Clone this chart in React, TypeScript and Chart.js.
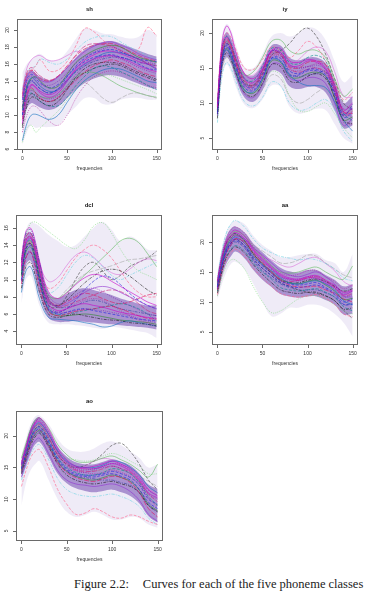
import React, { useEffect, useRef } from "react";
import { Chart, registerables } from "chart.js";
Chart.register(...registerables);

// ---------- data ----------
const FREQ = [0, 5, 10, 15, 20, 30, 40, 50, 60, 70, 80, 90, 100, 110, 120, 130, 140, 150];
const X_TICKS = [0, 50, 100, 150];

const SH_TICKS = [6, 8, 10, 12, 14, 16, 18, 20];
const IY_TICKS = [5, 10, 15, 20];
const DCL_TICKS = [4, 6, 8, 10, 12, 14, 16];
const AA_TICKS = [5, 10, 15, 20];
const AO_TICKS = [5, 10, 15, 20];

// sh
const SH_OUTER_UP = [15.0, 16.0, 16.5, 17.0, 17.2, 16.5, 16.5, 17.5, 19.0, 20.2, 20.0, 19.6, 19.5, 19.2, 19.0, 19.2, 20.0, 19.5];
const SH_OUTER_LO = [6.5, 8.0, 8.8, 8.5, 8.6, 8.6, 8.8, 10.0, 11.0, 12.0, 12.0, 11.3, 11.3, 11.8, 12.0, 12.0, 11.8, 11.8];
const SH_CORE_UP = [13.0, 14.8, 15.3, 14.9, 14.5, 14.1, 14.6, 15.6, 16.8, 17.7, 18.3, 18.6, 18.7, 18.4, 18.0, 17.6, 17.2, 16.9];
const SH_CORE_LO = [8.8, 10.8, 11.4, 11.2, 10.9, 10.6, 11.0, 12.0, 13.0, 13.8, 14.3, 14.6, 14.7, 14.5, 14.1, 13.7, 13.3, 13.0];
const SH_CURVES = [
  [9.0, 12.0, 13.5, 13.2, 12.6, 12.1, 12.6, 14.0, 15.5, 16.5, 17.1, 17.5, 17.5, 17.2, 16.8, 16.3, 16.0, 15.5],
  [10.0, 13.0, 14.0, 13.6, 13.1, 12.6, 13.1, 14.5, 15.6, 16.3, 16.8, 17.0, 17.1, 16.8, 16.5, 16.0, 15.5, 15.3],
  [11.5, 14.0, 14.6, 14.1, 13.6, 13.5, 14.0, 15.0, 16.1, 16.9, 17.4, 17.8, 18.0, 17.6, 17.0, 16.5, 16.2, 16.0],
  [8.5, 11.0, 12.1, 12.0, 11.6, 11.1, 11.6, 13.0, 14.5, 15.5, 16.0, 16.2, 16.2, 16.0, 15.5, 15.0, 14.6, 14.2],
  [9.5, 12.5, 13.2, 12.6, 12.0, 11.6, 12.1, 13.1, 14.1, 15.1, 15.8, 16.2, 16.5, 16.2, 15.8, 15.2, 14.8, 14.5],
  [7.0, 9.0, 10.0, 10.1, 9.9, 9.5, 10.0, 11.5, 13.0, 14.1, 14.8, 15.3, 15.5, 15.4, 15.0, 14.5, 14.0, 13.8],
  [12.0, 14.5, 15.1, 14.6, 14.1, 13.9, 14.5, 15.6, 16.6, 17.5, 18.1, 18.5, 18.6, 18.2, 17.8, 17.2, 16.8, 16.5],
  [10.0, 12.0, 12.6, 12.1, 11.6, 11.1, 11.1, 12.1, 13.5, 14.6, 15.5, 15.8, 15.6, 15.1, 14.6, 14.1, 13.5, 13.0],
  [8.0, 10.0, 11.0, 11.0, 10.5, 9.3, 8.8, 10.0, 12.0, 13.5, 14.5, 15.0, 15.2, 15.0, 14.6, 14.0, 13.5, 13.2],
  [11.0, 13.5, 14.1, 13.6, 13.1, 12.6, 13.1, 14.1, 15.1, 15.8, 16.3, 16.6, 16.8, 16.8, 16.5, 16.2, 16.0, 15.8],
  [12.5, 15.0, 15.6, 15.1, 14.6, 14.1, 14.6, 15.6, 17.1, 18.1, 18.4, 18.3, 18.1, 17.6, 17.1, 16.6, 16.1, 15.8],
  [10.8, 13.2, 14.3, 14.5, 14.0, 13.2, 13.4, 14.8, 16.2, 17.0, 17.6, 18.0, 18.2, 18.0, 17.4, 16.8, 16.5, 16.2],
  [10.2, 12.8, 13.6, 13.3, 12.8, 12.4, 12.9, 14.2, 15.3, 16.1, 16.6, 16.9, 17.0, 16.7, 16.3, 15.8, 15.4, 15.1],
  [11.8, 14.2, 14.8, 14.3, 13.8, 13.2, 13.6, 14.6, 15.8, 16.7, 17.3, 17.6, 17.7, 17.4, 17.0, 16.6, 16.4, 16.3],
  [9.8, 12.2, 12.9, 12.6, 12.2, 11.9, 12.3, 13.4, 14.8, 15.8, 16.4, 16.8, 16.9, 16.6, 16.1, 15.6, 15.2, 14.9],
  [8.8, 11.5, 12.5, 12.3, 11.9, 11.6, 12.0, 13.2, 14.3, 15.0, 15.5, 15.8, 16.0, 15.8, 15.3, 14.8, 14.4, 14.0],
  [12.2, 14.8, 15.3, 14.8, 14.3, 14.0, 14.6, 15.8, 17.0, 17.8, 18.2, 18.4, 18.4, 18.0, 17.5, 17.0, 16.6, 16.4],
  [10.6, 13.4, 14.4, 14.0, 13.4, 12.8, 13.0, 14.0, 15.2, 16.0, 16.6, 17.2, 17.4, 17.3, 17.0, 16.6, 16.0, 15.4],
];
const SH_STRAYS = [
  [11.0, 14.0, 15.2, 15.8, 16.5, 15.2, 15.3, 16.3, 18.2, 20.2, 19.8, 18.8, 18.0, 17.5, 17.2, 17.8, 20.3, 19.3],
  [6.8, 8.5, 8.8, 8.0, 8.5, 9.5, 10.5, 11.8, 13.0, 14.0, 14.5, 14.8, 14.6, 14.2, 13.8, 13.4, 13.0, 12.5],
  [13.0, 15.0, 15.5, 15.8, 16.6, 16.2, 16.0, 16.6, 17.6, 18.6, 19.1, 19.3, 19.2, 18.6, 18.0, 17.5, 17.0, 16.5],
  [9.5, 11.5, 12.0, 12.0, 11.8, 11.5, 11.8, 12.5, 13.4, 13.8, 13.0, 12.0, 11.5, 12.0, 12.5, 12.6, 12.3, 12.0],
  [10.5, 12.5, 13.0, 12.6, 12.2, 12.0, 12.4, 13.5, 14.5, 15.0, 15.0, 14.6, 14.0, 13.4, 13.0, 12.6, 12.3, 12.1],
  [13.0, 15.5, 16.5, 16.9, 17.0, 16.4, 16.5, 17.0, 17.5, 17.2, 16.8, 16.5, 16.3, 16.0, 15.5, 14.8, 14.2, 13.5],
];

// iy
const IY_OUTER_UP = [11.0, 19.5, 21.3, 20.5, 18.5, 15.2, 15.0, 17.0, 19.5, 20.0, 19.5, 20.0, 20.8, 20.5, 19.0, 16.0, 13.0, 14.0];
const IY_OUTER_LO = [7.2, 13.5, 15.5, 14.5, 12.5, 9.8, 9.3, 10.5, 12.5, 12.3, 9.5, 8.5, 8.8, 9.2, 9.0, 7.0, 5.0, 4.2];
const IY_CORE_UP = [10.3, 18.4, 20.1, 19.3, 17.5, 14.3, 13.9, 15.6, 18.2, 18.2, 16.5, 16.1, 16.5, 16.5, 15.7, 13.3, 10.0, 11.0];
const IY_CORE_LO = [7.7, 14.6, 16.6, 15.6, 13.6, 10.8, 10.2, 11.8, 14.6, 14.3, 12.4, 12.0, 12.3, 12.3, 11.5, 9.0, 6.4, 6.8];
const IY_CURVES = [
  [9.5, 18.5, 21.0, 20.0, 17.5, 14.2, 13.5, 15.0, 17.5, 17.8, 16.0, 15.8, 16.2, 16.0, 15.0, 12.5, 9.0, 10.0],
  [8.5, 16.0, 18.2, 17.2, 15.2, 12.2, 11.8, 13.6, 16.4, 16.4, 14.6, 14.2, 14.8, 14.8, 14.0, 11.2, 8.0, 8.6],
  [10.0, 17.8, 19.6, 18.6, 16.6, 13.6, 13.0, 14.8, 17.5, 17.3, 15.4, 15.0, 15.2, 15.4, 14.8, 12.2, 9.2, 9.5],
  [7.8, 15.2, 17.2, 16.2, 14.4, 11.5, 11.0, 12.8, 15.5, 15.2, 13.2, 13.0, 13.8, 14.2, 13.5, 10.8, 7.5, 7.0],
  [9.2, 17.2, 19.2, 18.2, 16.2, 13.2, 12.6, 14.5, 17.2, 17.0, 15.2, 15.0, 15.8, 16.0, 15.5, 12.5, 8.8, 8.5],
  [8.8, 16.0, 17.6, 16.6, 14.6, 11.8, 11.6, 13.5, 16.2, 16.0, 14.0, 13.0, 12.5, 12.5, 12.2, 10.2, 7.5, 6.0],
  [8.2, 15.5, 17.6, 16.5, 14.4, 11.3, 10.8, 12.6, 15.5, 15.5, 13.6, 13.2, 13.6, 13.6, 12.8, 10.0, 6.8, 7.8],
  [9.8, 17.5, 19.5, 18.5, 16.6, 13.5, 13.2, 15.3, 17.8, 17.6, 15.8, 15.6, 16.5, 16.8, 16.0, 12.6, 8.5, 7.5],
  [8.6, 16.8, 18.8, 17.5, 15.4, 12.4, 12.0, 13.6, 16.6, 16.6, 14.8, 14.6, 15.2, 15.6, 15.4, 12.0, 7.2, 7.0],
  [9.0, 16.2, 18.0, 17.0, 15.2, 12.8, 12.6, 14.6, 17.4, 17.0, 14.2, 13.8, 14.0, 14.2, 14.5, 11.6, 8.2, 9.8],
  [9.0, 17.0, 19.0, 18.0, 15.8, 12.8, 12.3, 14.0, 16.8, 16.8, 15.0, 14.4, 14.8, 15.0, 14.4, 11.6, 8.2, 8.8],
  [8.4, 15.8, 17.8, 16.8, 14.8, 11.9, 11.4, 13.2, 16.0, 15.8, 13.8, 13.6, 14.2, 14.4, 13.8, 10.8, 7.6, 8.0],
  [9.6, 17.6, 19.4, 18.4, 16.4, 13.4, 12.9, 14.8, 17.4, 17.2, 15.4, 15.3, 16.0, 15.8, 14.8, 12.0, 8.6, 9.2],
  [8.8, 16.4, 18.4, 17.4, 15.6, 12.6, 12.2, 14.0, 16.4, 16.0, 14.0, 14.0, 14.6, 14.6, 13.8, 11.4, 8.4, 9.4],
  [9.4, 16.8, 18.6, 17.6, 15.6, 12.6, 12.4, 14.4, 17.0, 17.2, 15.6, 15.0, 15.2, 15.0, 14.2, 11.8, 8.8, 8.0],
];
const IY_STRAYS = [
  [10.5, 18.2, 20.0, 19.4, 17.8, 15.0, 14.8, 16.2, 18.0, 17.5, 16.5, 17.5, 18.8, 18.0, 16.0, 13.0, 10.5, 11.5],
  [8.5, 15.5, 17.5, 16.8, 15.0, 12.0, 11.5, 12.5, 14.5, 14.0, 11.0, 9.0, 8.8, 9.5, 10.0, 8.5, 6.5, 5.0],
  [7.2, 13.8, 15.8, 15.0, 13.2, 10.2, 9.6, 10.8, 13.0, 12.5, 10.0, 9.0, 9.2, 10.0, 10.5, 9.0, 6.0, 4.5],
  [8.0, 14.5, 16.5, 15.8, 14.2, 11.6, 11.0, 12.0, 14.0, 13.5, 11.0, 10.0, 10.5, 11.5, 12.0, 10.5, 8.5, 9.0],
  [9.5, 17.0, 18.8, 18.0, 16.5, 14.0, 14.5, 16.5, 18.8, 19.0, 17.5, 17.0, 17.5, 17.5, 16.5, 13.5, 11.0, 12.0],
  [9.8, 17.4, 19.2, 18.4, 16.8, 14.2, 14.0, 15.6, 17.6, 17.0, 15.6, 16.2, 17.4, 18.0, 17.4, 14.5, 11.0, 10.8],
  [9.0, 16.5, 18.5, 17.8, 16.0, 13.0, 12.5, 14.2, 16.8, 17.5, 18.5, 20.0, 20.7, 19.5, 17.0, 13.5, 10.0, 9.0],
];

// dcl
const DCL_OUTER_UP = [12.8, 15.7, 16.7, 16.5, 16.2, 15.2, 14.5, 13.8, 14.0, 15.0, 16.0, 16.7, 15.8, 14.5, 15.0, 14.5, 13.5, 13.4];
const DCL_OUTER_LO = [7.2, 10.0, 10.5, 9.0, 7.0, 5.0, 4.8, 4.8, 4.7, 4.6, 4.4, 4.3, 4.5, 4.4, 4.2, 4.0, 3.8, 3.2];
const DCL_CORE_UP = [12.3, 15.1, 15.5, 14.3, 12.2, 8.5, 7.8, 8.3, 8.8, 9.0, 8.8, 8.5, 8.2, 7.8, 7.5, 7.2, 7.0, 7.0];
const DCL_CORE_LO = [8.7, 11.7, 12.2, 10.5, 8.2, 5.6, 5.1, 5.1, 5.2, 5.1, 5.0, 4.9, 4.8, 4.7, 4.6, 4.5, 4.4, 4.2];
const DCL_CURVES = [
  [11.5, 14.5, 15.0, 13.5, 11.0, 7.2, 6.4, 6.6, 7.0, 7.2, 7.0, 6.8, 6.5, 6.2, 6.0, 5.8, 5.6, 5.5],
  [10.0, 13.5, 14.0, 12.5, 10.0, 6.5, 6.0, 6.2, 6.5, 6.6, 6.4, 6.2, 6.0, 5.8, 5.6, 5.4, 5.3, 5.2],
  [12.0, 15.2, 15.5, 14.2, 12.0, 8.2, 7.2, 7.5, 8.2, 8.8, 9.0, 8.6, 8.0, 7.5, 7.0, 6.5, 6.0, 5.8],
  [9.0, 11.5, 12.0, 10.6, 8.6, 6.0, 5.6, 5.8, 6.0, 5.8, 5.6, 5.4, 5.3, 5.2, 5.0, 4.9, 4.8, 4.6],
  [9.5, 12.5, 13.2, 11.6, 9.2, 6.3, 5.8, 6.0, 6.3, 6.5, 6.6, 6.8, 6.9, 6.6, 6.2, 5.8, 5.5, 5.4],
  [8.5, 11.0, 11.5, 10.0, 7.8, 5.6, 5.4, 5.3, 5.2, 5.0, 4.8, 4.5, 4.6, 5.0, 5.2, 5.0, 4.8, 4.6],
  [11.2, 14.2, 14.8, 13.5, 11.2, 7.6, 6.9, 7.2, 7.8, 8.5, 9.0, 9.2, 9.0, 8.5, 8.0, 7.5, 7.0, 6.6],
  [10.8, 14.0, 14.6, 13.2, 10.8, 6.8, 6.0, 6.0, 6.2, 6.4, 6.6, 6.8, 7.0, 7.2, 7.0, 6.6, 6.0, 5.2],
  [10.0, 12.8, 13.3, 12.0, 9.8, 6.6, 6.2, 6.6, 7.2, 7.6, 7.8, 7.6, 7.0, 6.4, 5.8, 5.3, 5.0, 4.6],
  [12.2, 15.4, 15.8, 14.4, 12.0, 7.8, 6.8, 6.8, 7.0, 7.4, 7.6, 7.4, 7.0, 6.6, 6.4, 6.2, 6.0, 5.8],
  [11.6, 14.6, 15.0, 13.6, 11.2, 7.6, 6.8, 7.0, 7.4, 7.8, 8.2, 8.6, 8.8, 8.6, 8.0, 7.2, 6.4, 6.0],
  [10.4, 13.2, 13.8, 12.4, 10.0, 6.4, 5.8, 5.8, 5.9, 6.0, 5.9, 5.7, 5.5, 5.3, 5.2, 5.1, 5.0, 4.8],
  [12.4, 15.6, 16.0, 14.6, 12.2, 8.6, 7.8, 8.4, 9.4, 10.2, 10.6, 10.4, 9.8, 9.2, 8.6, 8.0, 7.4, 7.0],
  [9.8, 12.6, 13.2, 11.8, 9.6, 6.6, 6.2, 6.6, 7.6, 8.8, 9.8, 10.4, 10.2, 9.4, 8.4, 7.6, 7.0, 6.6],
  [11.0, 14.2, 14.8, 13.4, 11.0, 7.0, 6.2, 6.2, 6.4, 6.6, 6.5, 6.4, 6.2, 6.0, 5.8, 5.5, 5.2, 5.0],
  [10.6, 13.6, 14.2, 12.8, 10.4, 7.4, 7.0, 7.6, 8.6, 9.6, 10.4, 11.0, 11.2, 11.0, 10.4, 9.6, 8.8, 8.2],
  [12.0, 15.0, 15.4, 14.0, 11.6, 7.8, 7.0, 7.4, 8.0, 8.4, 8.2, 7.8, 7.4, 7.2, 7.4, 7.8, 8.2, 8.4],
];
const DCL_STRAYS = [
  [11.0, 14.0, 14.4, 13.0, 11.0, 9.0, 9.5, 11.0, 12.5, 13.5, 14.0, 13.5, 12.5, 11.0, 9.5, 8.5, 8.0, 8.0],
  [12.0, 15.0, 16.5, 16.7, 16.4, 15.6, 14.8, 14.0, 13.6, 14.6, 16.2, 16.6, 15.4, 13.5, 12.0, 11.0, 10.5, 10.0],
  [10.5, 13.0, 13.8, 12.5, 10.6, 8.5, 9.0, 10.5, 12.0, 12.8, 12.5, 11.5, 10.5, 10.0, 10.5, 11.0, 11.5, 12.0],
  [11.0, 14.0, 14.5, 13.2, 11.0, 8.0, 7.8, 8.8, 9.8, 10.6, 11.0, 11.3, 11.6, 12.0, 12.3, 12.4, 12.6, 12.8],
  [11.0, 14.0, 14.5, 13.0, 10.8, 8.2, 7.8, 8.5, 9.5, 10.5, 11.5, 12.5, 13.5, 14.5, 14.8, 14.3, 13.0, 11.5],
  [11.4, 14.2, 14.8, 13.6, 11.8, 9.8, 10.2, 11.6, 12.8, 13.2, 12.6, 11.6, 10.8, 10.6, 11.2, 12.0, 12.4, 12.2],
  [10.5, 13.8, 14.2, 12.8, 10.3, 7.0, 6.8, 8.0, 10.0, 11.5, 12.0, 11.0, 10.0, 10.5, 11.5, 12.0, 12.5, 13.3],
];

// aa
const AA_OUTER_UP = [15.0, 19.0, 21.8, 23.0, 23.6, 23.0, 21.0, 19.5, 18.5, 17.5, 17.5, 17.8, 18.0, 18.0, 17.0, 16.5, 15.0, 18.0];
const AA_OUTER_LO = [10.3, 13.0, 15.0, 16.3, 16.7, 15.5, 13.0, 10.0, 7.6, 8.0, 9.0, 9.0, 9.5, 9.5, 9.0, 8.0, 6.5, 4.2];
const AA_CORE_UP = [14.3, 18.4, 20.9, 22.2, 22.6, 21.6, 19.7, 18.3, 16.9, 15.7, 15.1, 14.9, 15.3, 15.3, 14.5, 13.7, 12.6, 13.0];
const AA_CORE_LO = [10.7, 14.1, 16.4, 17.6, 18.4, 17.3, 15.3, 13.7, 12.5, 11.3, 10.9, 10.7, 10.9, 10.9, 10.3, 9.5, 7.9, 8.0];
const AA_CURVES = [
  [13.5, 17.5, 20.2, 21.5, 22.0, 21.0, 18.8, 17.2, 15.8, 14.6, 14.0, 13.8, 14.2, 14.4, 13.6, 12.8, 11.6, 12.0],
  [12.5, 16.0, 18.6, 19.8, 20.5, 19.4, 17.4, 16.0, 14.8, 13.5, 13.0, 12.8, 13.0, 13.2, 12.4, 11.5, 10.0, 10.5],
  [13.0, 17.0, 19.6, 20.8, 21.4, 20.4, 18.4, 16.8, 15.5, 14.2, 13.6, 13.5, 13.8, 13.8, 13.0, 12.2, 10.8, 11.2],
  [11.5, 15.0, 17.4, 18.6, 19.2, 18.2, 16.2, 14.6, 13.2, 12.0, 11.6, 11.4, 11.6, 11.6, 11.0, 10.2, 8.8, 9.0],
  [12.0, 15.5, 18.0, 19.5, 20.5, 20.0, 18.2, 16.6, 15.0, 13.6, 12.8, 12.5, 12.5, 12.6, 12.0, 11.4, 10.5, 10.0],
  [12.8, 16.4, 19.0, 20.2, 20.8, 19.8, 17.6, 16.2, 15.2, 14.0, 13.2, 13.0, 13.3, 13.5, 13.0, 12.0, 10.2, 9.5],
  [12.2, 16.0, 18.8, 20.2, 21.0, 20.5, 19.0, 17.8, 16.5, 15.2, 14.5, 14.2, 14.6, 15.0, 14.2, 13.0, 11.0, 10.8],
  [11.8, 15.2, 17.6, 18.8, 19.4, 18.5, 16.5, 15.0, 13.8, 12.4, 12.0, 11.8, 12.0, 12.2, 11.6, 10.8, 9.2, 8.5],
  [13.6, 17.8, 20.6, 22.0, 22.5, 21.5, 19.2, 17.6, 16.0, 14.8, 14.4, 14.6, 15.2, 15.2, 14.2, 13.4, 12.2, 12.8],
  [12.0, 15.6, 18.2, 19.4, 20.0, 19.0, 16.8, 15.2, 14.0, 13.0, 12.4, 12.0, 12.0, 12.0, 11.5, 10.8, 9.5, 9.8],
  [12.6, 16.2, 18.8, 20.0, 20.6, 19.8, 17.8, 16.4, 15.0, 13.8, 13.4, 13.6, 14.0, 14.2, 13.6, 12.4, 11.0, 11.4],
  [12.8, 16.6, 19.2, 20.6, 21.2, 20.2, 18.0, 16.4, 15.0, 13.8, 13.2, 13.0, 13.4, 13.6, 12.8, 11.8, 10.4, 10.6],
  [13.2, 17.0, 19.8, 21.0, 21.6, 20.6, 18.6, 17.0, 15.6, 14.4, 13.8, 13.6, 14.0, 14.0, 13.2, 12.4, 11.2, 11.8],
  [12.2, 15.8, 18.4, 19.6, 20.2, 19.2, 17.0, 15.6, 14.4, 13.2, 12.6, 12.4, 12.6, 12.8, 12.2, 11.2, 9.6, 9.6],
  [12.4, 16.2, 19.0, 20.4, 21.0, 20.0, 18.2, 16.8, 15.4, 14.2, 13.8, 13.8, 14.2, 14.2, 13.4, 12.6, 11.4, 11.8],
  [13.4, 17.2, 19.8, 21.0, 21.4, 20.2, 18.0, 16.2, 14.8, 13.6, 13.2, 13.2, 13.6, 13.8, 13.4, 12.6, 11.8, 12.2],
];
const AA_STRAYS = [
  [11.2, 14.8, 17.0, 18.2, 18.8, 17.6, 15.6, 14.0, 12.6, 11.4, 11.0, 10.8, 11.0, 11.2, 10.6, 9.6, 8.0, 7.5],
  [11.0, 14.0, 16.0, 17.0, 17.0, 15.5, 12.5, 10.0, 8.2, 8.5, 9.5, 10.5, 11.0, 11.0, 10.5, 9.5, 8.5, 8.0],
  [14.0, 18.5, 21.5, 23.0, 23.6, 22.5, 20.5, 19.0, 18.2, 17.6, 17.3, 17.0, 17.2, 17.0, 16.4, 15.5, 14.0, 13.5],
  [12.5, 16.5, 19.5, 21.0, 21.6, 21.0, 19.5, 18.5, 17.5, 16.5, 16.5, 17.0, 17.8, 17.6, 16.5, 15.5, 14.5, 14.0],
  [13.2, 17.2, 20.0, 21.2, 21.8, 21.0, 19.0, 17.5, 16.0, 15.0, 14.8, 15.0, 15.5, 15.8, 15.0, 14.2, 13.8, 16.0],
  [13.0, 17.0, 19.6, 20.8, 21.2, 20.2, 18.4, 17.6, 17.0, 16.2, 15.8, 16.4, 17.2, 17.4, 16.4, 15.2, 13.4, 12.6],
  [12.6, 16.0, 18.6, 19.8, 20.4, 19.4, 17.2, 15.6, 14.4, 13.2, 12.6, 12.0, 11.6, 11.4, 11.0, 10.2, 8.6, 7.2],
];

// ao
const AO_OUTER_UP = [17.0, 19.5, 21.8, 23.0, 23.2, 21.8, 19.5, 18.0, 17.5, 17.5, 18.0, 18.8, 19.1, 18.5, 17.5, 16.5, 15.0, 15.5];
const AO_OUTER_LO = [9.0, 12.5, 14.5, 15.5, 16.0, 13.0, 10.0, 8.0, 7.2, 7.5, 8.0, 7.5, 6.8, 6.8, 7.2, 7.0, 6.0, 5.5];
const AO_CORE_UP = [16.3, 18.8, 21.2, 22.6, 22.9, 20.9, 18.3, 16.7, 15.8, 15.5, 15.5, 15.9, 16.3, 15.9, 15.3, 14.0, 12.3, 11.6];
const AO_CORE_LO = [13.2, 15.2, 17.1, 18.6, 19.0, 16.6, 14.0, 12.5, 11.7, 11.3, 11.1, 11.3, 11.5, 11.1, 10.5, 9.3, 7.3, 6.3];
const AO_CURVES = [
  [15.5, 18.0, 20.5, 22.0, 22.8, 21.0, 18.0, 16.2, 15.2, 15.0, 15.2, 15.6, 16.0, 15.5, 14.8, 13.5, 11.5, 10.5],
  [14.8, 17.0, 19.2, 20.6, 21.0, 18.8, 16.2, 14.6, 13.8, 13.6, 13.5, 13.8, 14.0, 13.6, 13.0, 11.5, 9.5, 8.5],
  [15.8, 18.2, 20.8, 22.2, 22.6, 20.6, 17.6, 15.8, 14.8, 14.6, 14.8, 15.0, 15.2, 14.8, 14.0, 12.6, 10.8, 10.0],
  [14.0, 16.2, 18.4, 19.8, 20.4, 18.2, 15.5, 13.8, 13.0, 12.6, 12.4, 12.6, 12.8, 12.4, 12.0, 11.0, 9.0, 8.0],
  [14.5, 16.8, 19.0, 20.5, 21.0, 18.6, 15.8, 14.2, 13.4, 13.0, 12.8, 13.2, 13.6, 13.4, 12.6, 11.0, 8.5, 7.2],
  [15.5, 17.8, 20.2, 21.6, 22.0, 20.2, 17.6, 16.0, 15.2, 15.0, 15.0, 15.4, 16.0, 15.8, 15.0, 13.8, 12.0, 11.0],
  [13.5, 15.8, 17.8, 19.2, 19.6, 17.2, 14.5, 13.0, 12.4, 12.2, 12.0, 12.2, 12.4, 12.0, 11.2, 9.8, 7.6, 6.5],
  [14.6, 17.0, 19.4, 20.8, 21.2, 19.0, 16.5, 15.0, 14.2, 13.8, 13.8, 14.2, 14.8, 14.6, 14.0, 12.6, 10.4, 9.0],
  [16.0, 18.4, 20.6, 22.0, 22.4, 20.4, 17.4, 15.6, 14.6, 14.2, 14.0, 14.2, 14.6, 14.2, 13.6, 12.4, 10.2, 8.8],
  [14.2, 16.6, 18.8, 20.2, 20.6, 18.4, 15.8, 14.4, 13.6, 13.4, 13.2, 13.0, 13.0, 12.6, 12.2, 11.0, 9.0, 8.0],
  [15.2, 17.6, 20.0, 21.4, 21.8, 19.8, 17.0, 15.4, 14.6, 14.4, 14.4, 14.8, 15.2, 14.8, 14.2, 12.8, 10.8, 9.6],
  [14.4, 16.6, 18.8, 20.2, 20.8, 18.6, 16.0, 14.4, 13.6, 13.2, 13.0, 13.4, 13.8, 13.4, 12.8, 11.4, 9.2, 8.2],
  [15.6, 18.0, 20.4, 21.8, 22.2, 20.2, 17.4, 15.8, 15.0, 14.8, 14.8, 15.2, 15.6, 15.2, 14.4, 13.0, 11.0, 10.2],
  [14.8, 17.2, 19.6, 21.0, 21.4, 19.2, 16.4, 14.8, 14.0, 13.8, 13.8, 14.0, 14.4, 14.0, 13.4, 12.2, 10.0, 9.2],
  [15.4, 17.8, 20.0, 21.4, 21.8, 19.6, 16.8, 15.2, 14.4, 14.2, 14.6, 15.2, 15.6, 15.4, 14.6, 13.2, 11.4, 10.6],
];
const AO_STRAYS = [
  [12.0, 14.5, 16.5, 17.5, 17.8, 15.0, 11.5, 9.2, 7.6, 7.8, 8.5, 8.0, 7.2, 7.0, 7.5, 7.2, 6.5, 6.0],
  [15.0, 17.6, 20.0, 21.4, 21.8, 19.8, 17.5, 16.5, 16.2, 16.0, 16.2, 16.8, 17.2, 16.8, 16.0, 15.2, 14.0, 14.0],
  [13.0, 15.2, 17.0, 18.2, 18.6, 16.2, 13.2, 11.5, 10.8, 10.5, 10.4, 10.6, 10.8, 10.4, 9.8, 8.8, 7.0, 6.0],
  [15.2, 17.5, 19.8, 21.2, 21.6, 19.6, 17.2, 15.8, 15.0, 14.8, 14.5, 14.5, 14.8, 14.6, 14.2, 13.6, 12.8, 12.0],
  [16.5, 18.8, 21.0, 22.4, 22.8, 21.2, 18.6, 17.0, 16.0, 15.8, 16.0, 16.5, 16.8, 16.2, 15.5, 14.5, 13.5, 15.5],
  [14.0, 16.5, 18.5, 19.6, 20.0, 18.0, 15.5, 14.5, 14.6, 15.2, 16.0, 16.4, 16.2, 15.4, 14.4, 13.0, 11.6, 11.0],
  [15.0, 17.2, 19.5, 21.0, 21.5, 19.5, 17.0, 15.5, 15.0, 15.3, 16.0, 17.2, 18.5, 18.8, 17.5, 15.5, 13.0, 11.5],
];

const CAPTION_LEAD = "Figure 2.2:";
const CAPTION_TEXT = "Curves for each of the five phoneme classes";

// ---------- styling ----------
const CORE_COLORS = ["#C800C8", "#1E1EDC", "#7A1FB0", "#1A1A1A", "#E0105A", "#1070C0", "#9030D0", "#008B8B", "#B0209A", "#3040A0", "#D0207A", "#2A8A2A"];
const STRAY_COLORS = ["#FF5F88", "#7CD67C", "#6FD3E3", "#A5A5A5", "#5FB85F", "#D86FD8", "#3A3A3A"];
const LINE_DASHES: number[][] = [[], [3, 1.5], [1, 1.2], [3, 1.2, 1, 1.2], [5, 1.5], []];
const OUTER_FILL = "rgba(140,110,200,0.14)";
const CORE_FILL = "rgba(95,50,165,0.5)";

type Panel = {
  title: string;
  left: number; top: number; w: number; h: number;
  pad: { left: number; top: number; right: number; bottom: number };
  yMin: number; yMax: number; yTicks: number[];
  curves: number[][]; strays: number[][];
  outerUp: number[]; outerLo: number[]; coreUp: number[]; coreLo: number[];
};

const PANELS: Panel[] = [
  { title: "sh", left: 0, top: 0, w: 184, h: 190, pad: { left: 17, top: 19, right: 22, bottom: 40 }, yMin: 5.9, yMax: 21.3, yTicks: SH_TICKS, curves: SH_CURVES, strays: SH_STRAYS, outerUp: SH_OUTER_UP, outerLo: SH_OUTER_LO, coreUp: SH_CORE_UP, coreLo: SH_CORE_LO },
  { title: "iy", left: 184, top: 0, w: 184, h: 190, pad: { left: 28, top: 19, right: 10, bottom: 40 }, yMin: 3.3, yMax: 22, yTicks: IY_TICKS, curves: IY_CURVES, strays: IY_STRAYS, outerUp: IY_OUTER_UP, outerLo: IY_OUTER_LO, coreUp: IY_CORE_UP, coreLo: IY_CORE_LO },
  { title: "dcl", left: 0, top: 190, w: 184, h: 190, pad: { left: 16, top: 25, right: 22, bottom: 35 }, yMin: 2.4, yMax: 17.5, yTicks: DCL_TICKS, curves: DCL_CURVES, strays: DCL_STRAYS, outerUp: DCL_OUTER_UP, outerLo: DCL_OUTER_LO, coreUp: DCL_CORE_UP, coreLo: DCL_CORE_LO },
  { title: "aa", left: 184, top: 190, w: 184, h: 190, pad: { left: 28, top: 25, right: 10, bottom: 35 }, yMin: 2.8, yMax: 24.5, yTicks: AA_TICKS, curves: AA_CURVES, strays: AA_STRAYS, outerUp: AA_OUTER_UP, outerLo: AA_OUTER_LO, coreUp: AA_CORE_UP, coreLo: AA_CORE_LO },
  { title: "ao", left: 0, top: 380, w: 184, h: 190, pad: { left: 16, top: 31, right: 21, bottom: 29 }, yMin: 3.4, yMax: 23.9, yTicks: AO_TICKS, curves: AO_CURVES, strays: AO_STRAYS, outerUp: AO_OUTER_UP, outerLo: AO_OUTER_LO, coreUp: AO_CORE_UP, coreLo: AO_CORE_LO },
];

const pts = (vals: number[]) => vals.map((v, i) => ({ x: FREQ[i], y: v }));

const rAxesPlugin = (title: string, yTicks: number[]) => ({
  id: "rAxes",
  afterDraw(chart: any) {
    const ctx = chart.ctx as CanvasRenderingContext2D;
    const { left, right, top, bottom } = chart.chartArea;
    const xs = chart.scales.x;
    const ys = chart.scales.y;
    ctx.save();
    ctx.strokeStyle = "#6a6a6a";
    ctx.lineWidth = 1;
    ctx.strokeRect(Math.round(left) + 0.5, Math.round(top) + 0.5, Math.round(right - left) - 1, Math.round(bottom - top) - 1);
    ctx.fillStyle = "#333";
    ctx.font = "5px 'Liberation Sans', Arial, sans-serif";
    ctx.textAlign = "center";
    ctx.textBaseline = "middle";
    ctx.beginPath();
    for (const v of X_TICKS) {
      const px = Math.round(xs.getPixelForValue(v)) + 0.5;
      ctx.moveTo(px, bottom);
      ctx.lineTo(px, bottom + 3);
    }
    for (const v of yTicks) {
      const py = Math.round(ys.getPixelForValue(v)) + 0.5;
      ctx.moveTo(left, py);
      ctx.lineTo(left - 3, py);
    }
    ctx.stroke();
    for (const v of X_TICKS) {
      ctx.fillText(String(v), xs.getPixelForValue(v), bottom + 9);
    }
    for (const v of yTicks) {
      ctx.save();
      ctx.translate(left - 9, ys.getPixelForValue(v));
      ctx.rotate(-Math.PI / 2);
      ctx.fillText(String(v), 0, 0);
      ctx.restore();
    }
    const cx = (left + right) / 2;
    ctx.fillText("frequencies", cx, bottom + 19);
    ctx.font = "bold 6px 'Liberation Sans', Arial, sans-serif";
    ctx.fillStyle = "#222";
    ctx.fillText(title, cx, top - 10);
    ctx.restore();
  },
});

function PanelChart({ p }: { p: Panel }) {
  const ref = useRef<HTMLCanvasElement | null>(null);
  useEffect(() => {
    if (!ref.current) return;
    const band = (up: number[], lo: number[], color: string) => [
      { data: pts(up), borderWidth: 0, pointRadius: 0, fill: "+1", backgroundColor: color, borderColor: "rgba(0,0,0,0)", tension: 0.4, order: 10 },
      { data: pts(lo), borderWidth: 0, pointRadius: 0, fill: false, borderColor: "rgba(0,0,0,0)", tension: 0.4, order: 10 },
    ];
    const lines = p.curves.map((c, i) => ({
      data: pts(c),
      borderColor: CORE_COLORS[i % CORE_COLORS.length],
      borderWidth: 0.6,
      borderDash: LINE_DASHES[i % LINE_DASHES.length],
      pointRadius: 0,
      fill: false,
      tension: 0.4,
      order: 1,
    }));
    const strays = p.strays.map((c, i) => ({
      data: pts(c),
      borderColor: STRAY_COLORS[i % STRAY_COLORS.length],
      borderWidth: 0.6,
      borderDash: LINE_DASHES[(i + 1) % LINE_DASHES.length],
      pointRadius: 0,
      fill: false,
      tension: 0.4,
      order: 2,
    }));
    const chart = new Chart(ref.current, {
      type: "line",
      data: { datasets: [...lines, ...strays, ...band(p.outerUp, p.outerLo, OUTER_FILL), ...band(p.coreUp, p.coreLo, CORE_FILL)] as any },
      options: {
        animation: false,
        responsive: false,
        maintainAspectRatio: false,
        events: [],
        layout: { padding: p.pad },
        plugins: { legend: { display: false }, tooltip: { enabled: false }, title: { display: false } },
        scales: {
          x: { type: "linear", min: -6, max: 156, display: false },
          y: { type: "linear", min: p.yMin, max: p.yMax, display: false },
        },
      },
      plugins: [rAxesPlugin(p.title, p.yTicks)],
    });
    return () => chart.destroy();
  }, [p]);
  return (
    <canvas
      ref={ref}
      width={p.w}
      height={p.h}
      style={{ position: "absolute", left: p.left, top: p.top, width: p.w, height: p.h }}
    />
  );
}

export default function App() {
  return (
    <div style={{ position: "absolute", left: 0, top: 0, width: 368, height: 592, background: "#fff", overflow: "hidden" }}>
      {PANELS.map((p) => (
        <PanelChart key={p.title} p={p} />
      ))}
      <div
        style={{
          position: "absolute",
          left: 74,
          top: 576,
          whiteSpace: "nowrap",
          fontFamily: "'Liberation Serif', 'DejaVu Serif', serif",
          fontSize: 12.5,
          lineHeight: "16px",
          color: "#222",
        }}
      >
        <span>{CAPTION_LEAD}</span>
        <span style={{ marginLeft: 14 }}>{CAPTION_TEXT}</span>
      </div>
    </div>
  );
}
